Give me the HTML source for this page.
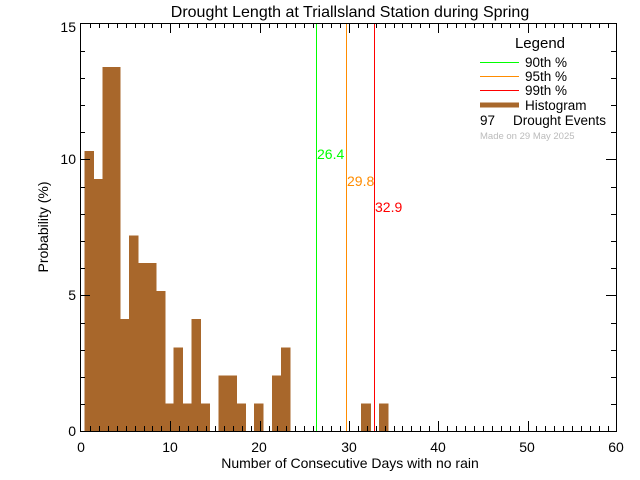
<!DOCTYPE html>
<html><head><meta charset="utf-8"><style>
html,body{margin:0;padding:0;background:#fff;}
svg{display:block;}
text{font-family:"Liberation Sans",sans-serif;}
</style></head><body>
<svg id="s" width="640" height="480" xmlns="http://www.w3.org/2000/svg">
<rect width="640" height="480" fill="#fff"/>
<g id="bars" fill="#a8672b" shape-rendering="crispEdges"></g>
<g shape-rendering="crispEdges">
<line x1="316.5" y1="23" x2="316.5" y2="431" stroke="#00ff00" stroke-width="1.3"/>
<line x1="346.5" y1="23" x2="346.5" y2="431" stroke="#ff8c00" stroke-width="1.3"/>
<line x1="374.5" y1="23" x2="374.5" y2="431" stroke="#ff0000" stroke-width="1.3"/>
</g>
<text x="317" y="159" font-size="14" fill="#00ff00">26.4</text>
<text x="347" y="186" font-size="14" fill="#ff8c00">29.8</text>
<text x="375" y="212" font-size="14" fill="#ff0000">32.9</text>
<g id="ticks" stroke="#000" stroke-width="1" shape-rendering="crispEdges"></g>
<rect x="80.5" y="23.5" width="536" height="408" fill="none" stroke="#000" stroke-width="1" shape-rendering="crispEdges"/>
<g font-size="14" fill="#000" text-anchor="middle">
<text x="81" y="452">0</text><text x="170" y="452">10</text><text x="259" y="452">20</text>
<text x="349" y="452">30</text><text x="438" y="452">40</text><text x="527" y="452">50</text><text x="616" y="452">60</text>
</g>
<g font-size="14" fill="#000" text-anchor="end">
<text x="76" y="436">0</text><text x="76" y="300">5</text><text x="76" y="164">10</text><text x="76" y="32">15</text>
</g>
<text x="350" y="468" font-size="14" text-anchor="middle">Number of Consecutive Days with no rain</text>
<text transform="translate(48,227) rotate(-90)" font-size="14" text-anchor="middle">Probability (%)</text>
<text x="350" y="17" font-size="16" text-anchor="middle">Drought Length at Triallsland Station during Spring</text>
<text x="540" y="48" font-size="15" text-anchor="middle">Legend</text>
<g shape-rendering="crispEdges">
<line x1="480" y1="62.5" x2="519" y2="62.5" stroke="#00ff00" stroke-width="1"/>
<line x1="480" y1="76.5" x2="519" y2="76.5" stroke="#ff8c00" stroke-width="1"/>
<line x1="480" y1="90.5" x2="519" y2="90.5" stroke="#ff0000" stroke-width="1"/>
<line x1="480" y1="105" x2="519" y2="105" stroke="#a8672b" stroke-width="5"/>
</g>
<g font-size="13.5" fill="#000">
<text x="525" y="67">90th %</text><text x="525" y="81">95th %</text><text x="525" y="95">99th %</text>
<text x="525" y="110">Histogram</text>
<text x="480" y="125">97</text><text x="513" y="125">Drought Events</text>
</g>
<text x="480" y="139" font-size="9.5" fill="#bbb">Made on 29 May 2025</text>
</svg>
<script>
var ns="http://www.w3.org/2000/svg";
function X(d){return 81+d*8.93;}
function Y(v){return 431.3-v*27.2;}
var h=[10.3,9.28,13.4,13.4,4.12,7.2,6.19,6.19,5.15,1.03,3.09,1.03,4.12,1.03,0,2.06,2.06,1.03,0,1.03,0,2.06,3.09,0,0,0,0,0,0,0,0,1.03,0,1.03];
var b=document.getElementById("bars");
h.forEach(function(v,k){if(!v)return;var r=document.createElementNS(ns,"rect");
var x0=X(k+0.38),x1=X(k+1.45);r.setAttribute("x",x0);r.setAttribute("width",x1-x0);
r.setAttribute("y",Y(v));r.setAttribute("height",431-Y(v));b.appendChild(r);});
var t=document.getElementById("ticks");
function L(a,b2,c,d){var l=document.createElementNS(ns,"line");l.setAttribute("x1",a);l.setAttribute("y1",b2);l.setAttribute("x2",c);l.setAttribute("y2",d);t.appendChild(l);}
for(var d=1;d<60;d++){var len=d%10==0?10:5;var x=Math.round(X(d))+0.5;L(x,431,x,431-len);L(x,23,x,23+len);}
for(var v=1;v<15;v++){var len=v%5==0?10:5;var y=Math.round(Y(v))+0.5;L(80,y,80+len,y);L(616,y,616-len,y);}
</script>
</body></html>
